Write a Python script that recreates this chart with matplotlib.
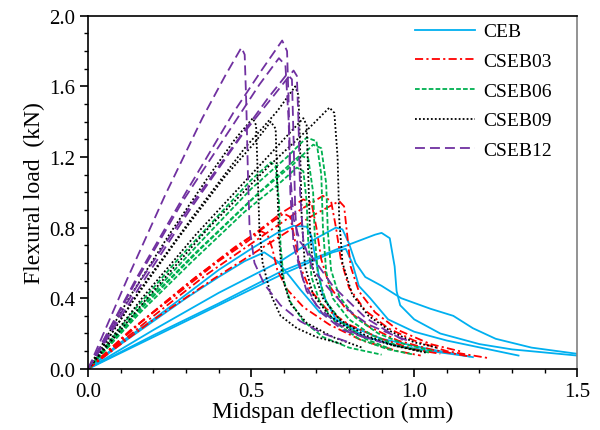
import matplotlib
matplotlib.use('Agg')
import matplotlib.pyplot as plt
from matplotlib.ticker import MultipleLocator

plt.rcParams['font.family'] = ['Liberation Serif', 'DejaVu Serif']

# load-deflection curves, 5 specimens per mix
ceb_x = [
    [0, 0.10, 0.20, 0.30, 0.40, 0.50, 0.58, 0.63, 0.67, 0.685, 0.70, 0.72, 0.76, 0.85, 0.95, 1.05, 1.17],
    [0, 0.10, 0.20, 0.30, 0.40, 0.48, 0.54, 0.58, 0.62, 0.65, 0.71, 0.80, 0.90, 1.05, 1.18],
    [0, 0.20, 0.40, 0.59, 0.78, 0.88, 0.90, 0.925, 0.94, 0.946, 0.957, 1.0, 1.08, 1.2, 1.3, 1.5],
    [0, 0.20, 0.40, 0.59, 0.70, 0.76, 0.78, 0.80, 0.82, 0.85, 0.90, 0.96, 1.05, 1.12, 1.18, 1.25, 1.36, 1.5],
    [0, 0.20, 0.40, 0.60, 0.75, 0.79, 0.81, 0.83, 0.865, 0.92, 1.0, 1.1, 1.32],
]
ceb_y = [
    [0, 0.15, 0.28, 0.42, 0.56, 0.68, 0.77, 0.81, 0.805, 0.75, 0.60, 0.42, 0.28, 0.18, 0.13, 0.10, 0.07],
    [0, 0.14, 0.27, 0.40, 0.52, 0.61, 0.66, 0.61, 0.52, 0.45, 0.32, 0.245, 0.17, 0.11, 0.066],
    [0, 0.19, 0.37, 0.55, 0.69, 0.76, 0.77, 0.74, 0.58, 0.44, 0.36, 0.28, 0.20, 0.14, 0.11, 0.075],
    [0, 0.22, 0.43, 0.61, 0.74, 0.80, 0.79, 0.71, 0.60, 0.52, 0.47, 0.40, 0.34, 0.30, 0.23, 0.17, 0.12, 0.085],
    [0, 0.18, 0.36, 0.54, 0.66, 0.68, 0.60, 0.47, 0.40, 0.28, 0.21, 0.16, 0.075],
]

cseb03_x = [
    [0, 0.13, 0.27, 0.40, 0.48, 0.53, 0.55, 0.565, 0.58, 0.61, 0.66, 0.74, 0.84, 0.95, 1.02],
    [0, 0.15, 0.30, 0.45, 0.54, 0.60, 0.62, 0.635, 0.65, 0.68, 0.73, 0.80, 0.90, 1.0, 1.08],
    [0, 0.165, 0.33, 0.50, 0.59, 0.66, 0.685, 0.70, 0.715, 0.74, 0.79, 0.86, 0.95, 1.05, 1.17],
    [0, 0.18, 0.36, 0.54, 0.65, 0.72, 0.745, 0.76, 0.775, 0.80, 0.85, 0.92, 1.0, 1.1, 1.23],
    [0, 0.19, 0.385, 0.58, 0.69, 0.77, 0.785, 0.795, 0.805, 0.83, 0.88, 0.95, 1.05, 1.15],
]
cseb03_y = [
    [0, 0.22, 0.42, 0.61, 0.71, 0.78, 0.76, 0.68, 0.56, 0.45, 0.35, 0.25, 0.16, 0.10, 0.075],
    [0, 0.245, 0.475, 0.69, 0.80, 0.88, 0.86, 0.72, 0.58, 0.45, 0.34, 0.25, 0.17, 0.11, 0.085],
    [0, 0.27, 0.52, 0.75, 0.88, 0.96, 0.94, 0.80, 0.62, 0.47, 0.34, 0.24, 0.16, 0.11, 0.07],
    [0, 0.27, 0.53, 0.76, 0.90, 0.98, 0.95, 0.80, 0.62, 0.46, 0.33, 0.23, 0.16, 0.10, 0.06],
    [0, 0.265, 0.51, 0.74, 0.87, 0.95, 0.92, 0.75, 0.58, 0.44, 0.32, 0.22, 0.14, 0.095],
]

cseb06_x = [
    [0, 0.14, 0.28, 0.42, 0.50, 0.56, 0.575, 0.585, 0.59, 0.60, 0.62, 0.66, 0.72, 0.80, 0.90],
    [0, 0.16, 0.32, 0.48, 0.58, 0.64, 0.66, 0.67, 0.675, 0.685, 0.71, 0.76, 0.83, 0.92, 1.0],
    [0, 0.17, 0.335, 0.50, 0.61, 0.67, 0.70, 0.715, 0.72, 0.73, 0.75, 0.80, 0.87, 0.95, 1.05],
    [0, 0.17, 0.345, 0.52, 0.63, 0.69, 0.715, 0.73, 0.735, 0.745, 0.77, 0.82, 0.89, 0.97, 1.06],
    [0, 0.16, 0.325, 0.49, 0.59, 0.65, 0.675, 0.69, 0.695, 0.705, 0.73, 0.78, 0.85, 0.93],
]
cseb06_y = [
    [0, 0.33, 0.63, 0.91, 1.07, 1.17, 1.15, 0.95, 0.70, 0.50, 0.38, 0.27, 0.18, 0.12, 0.08],
    [0, 0.32, 0.61, 0.89, 1.04, 1.14, 1.12, 0.95, 0.72, 0.52, 0.38, 0.26, 0.17, 0.11, 0.08],
    [0, 0.37, 0.70, 1.02, 1.20, 1.31, 1.29, 1.10, 0.80, 0.55, 0.40, 0.28, 0.19, 0.13, 0.09],
    [0, 0.355, 0.68, 0.99, 1.16, 1.27, 1.25, 1.05, 0.78, 0.56, 0.41, 0.29, 0.20, 0.14, 0.10],
    [0, 0.34, 0.65, 0.94, 1.11, 1.21, 1.19, 1.00, 0.75, 0.53, 0.38, 0.26, 0.17, 0.11],
]

cseb09_x = [
    [0, 0.16, 0.32, 0.48, 0.58, 0.635, 0.645, 0.65, 0.655, 0.665, 0.69, 0.74, 0.82, 0.92, 1.02],
    [0, 0.185, 0.37, 0.555, 0.67, 0.74, 0.755, 0.765, 0.77, 0.78, 0.81, 0.86, 0.93, 1.0, 1.07],
    [0, 0.165, 0.33, 0.50, 0.60, 0.66, 0.67, 0.675, 0.68, 0.69, 0.72, 0.77, 0.85, 0.94, 1.04],
    [0, 0.14, 0.28, 0.42, 0.51, 0.56, 0.575, 0.58, 0.585, 0.595, 0.62, 0.67, 0.75, 0.84],
    [0, 0.125, 0.25, 0.375, 0.45, 0.505, 0.515, 0.52, 0.525, 0.535, 0.56, 0.59, 0.64, 0.70, 0.78],
]
cseb09_y = [
    [0, 0.45, 0.86, 1.25, 1.46, 1.60, 1.55, 1.25, 0.85, 0.58, 0.42, 0.30, 0.20, 0.14, 0.10],
    [0, 0.41, 0.80, 1.15, 1.35, 1.48, 1.45, 1.20, 0.85, 0.60, 0.42, 0.30, 0.21, 0.15, 0.12],
    [0, 0.40, 0.76, 1.10, 1.30, 1.42, 1.38, 1.10, 0.80, 0.56, 0.40, 0.28, 0.19, 0.13, 0.09],
    [0, 0.39, 0.75, 1.09, 1.28, 1.40, 1.36, 1.05, 0.75, 0.52, 0.37, 0.26, 0.18, 0.12],
    [0, 0.40, 0.765, 1.105, 1.30, 1.42, 1.38, 1.10, 0.80, 0.60, 0.42, 0.30, 0.23, 0.18, 0.14],
]

cseb12_x = [
    [0, 0.12, 0.235, 0.35, 0.42, 0.47, 0.48, 0.485, 0.49, 0.495, 0.51, 0.54, 0.59, 0.65, 0.72, 0.80],
    [0, 0.15, 0.30, 0.445, 0.535, 0.595, 0.61, 0.615, 0.62, 0.63, 0.65, 0.70, 0.75, 0.80, 0.85, 0.92, 0.97],
    [0, 0.145, 0.29, 0.44, 0.525, 0.585, 0.605, 0.615, 0.62, 0.63, 0.66, 0.70, 0.76, 0.83, 0.90],
    [0, 0.16, 0.315, 0.47, 0.57, 0.63, 0.64, 0.645, 0.65, 0.66, 0.69, 0.74, 0.80, 0.86, 0.95, 0.98],
    [0, 0.15, 0.305, 0.46, 0.55, 0.61, 0.625, 0.63, 0.635, 0.645, 0.67, 0.72, 0.78, 0.86],
]
cseb12_y = [
    [0, 0.51, 0.98, 1.42, 1.66, 1.82, 1.78, 1.50, 1.10, 0.80, 0.60, 0.48, 0.36, 0.27, 0.20, 0.15],
    [0, 0.52, 1.00, 1.45, 1.70, 1.86, 1.80, 1.50, 1.10, 0.85, 0.72, 0.60, 0.47, 0.38, 0.29, 0.21, 0.16],
    [0, 0.49, 0.95, 1.37, 1.61, 1.76, 1.72, 1.40, 1.00, 0.70, 0.50, 0.36, 0.26, 0.19, 0.15],
    [0, 0.47, 0.91, 1.32, 1.55, 1.69, 1.66, 1.40, 1.00, 0.72, 0.56, 0.45, 0.33, 0.25, 0.18, 0.16],
    [0, 0.47, 0.90, 1.30, 1.53, 1.67, 1.64, 1.30, 0.90, 0.60, 0.44, 0.31, 0.22, 0.17],
]

series = [
    ('CEB', ceb_x, ceb_y, '#00B0F0', '-'),
    ('CSEB03', cseb03_x, cseb03_y, '#FF0000', (0, (4.5, 1.8, 1.2, 1.8))),
    ('CSEB06', cseb06_x, cseb06_y, '#00B050', (0, (2.6, 1.2))),
    ('CSEB09', cseb09_x, cseb09_y, 'black', (0, (1.0, 1.2))),
    ('CSEB12', cseb12_x, cseb12_y, '#7030A0', (0, (5.5, 2.8))),
]

fig, ax = plt.subplots(figsize=(6, 4.31), dpi=100)
fig.subplots_adjust(left=0.147, right=0.962, bottom=0.142, top=0.961)

for name, xs, ys, col, ls in series:
    for i in range(len(xs)):
        ax.plot(xs[i], ys[i], color=col, linestyle=ls, lw=1.3,
                label=name if i == 0 else None)

ax.set_xlim(0, 1.5)
ax.set_ylim(0, 2.0)
ax.xaxis.set_major_locator(MultipleLocator(0.5))
ax.xaxis.set_minor_locator(MultipleLocator(0.1))
ax.yaxis.set_major_locator(MultipleLocator(0.4))
ax.yaxis.set_minor_locator(MultipleLocator(0.1))
ax.xaxis.set_major_formatter('{x:.1f}')
ax.yaxis.set_major_formatter('{x:.1f}')
ax.tick_params(which='major', direction='out', length=6, width=1.2, labelsize=15)
ax.tick_params(which='minor', direction='out', length=3, width=1.0)
ax.tick_params(top=False, right=False, which='both')
for s in ['left', 'bottom', 'top']:
    ax.spines[s].set_linewidth(1.2)
ax.spines['right'].set_color('#808080')
ax.spines['right'].set_linewidth(1.2)

ax.set_xlabel('Midspan deflection (mm)', fontsize=17, labelpad=0)
ax.set_ylabel('Flexural load  (kN)', fontsize=17, labelpad=3)

ax.legend(loc='upper right', frameon=False, fontsize=14, handlelength=3.1,
          handletextpad=0.45, labelspacing=0.62, bbox_to_anchor=(0.985, 1.03))

fig.savefig('out.png', dpi=100)
